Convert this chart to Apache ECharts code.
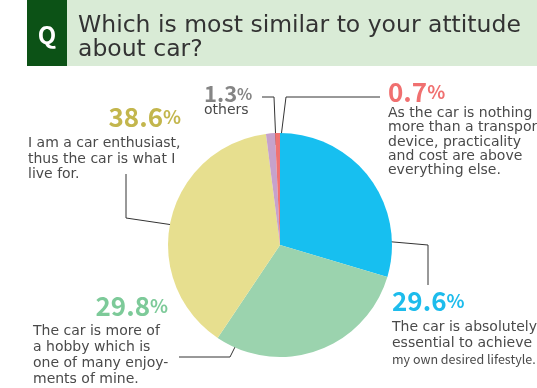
<!DOCTYPE html>
<html>
<head>
<meta charset="utf-8">
<script src="https://cdn.jsdelivr.net/npm/echarts@6/dist/echarts.min.js"></script>
<style>
  html, body { margin: 0; padding: 0; background: #fff; }
  #chart { width: 537px; height: 388px; }
</style>
</head>
<body>
<div id="chart"></div>
<script>
const categories = ['Essential', 'Hobby', 'Enthusiast', 'Others', 'Transport']
const values = [29.6, 29.8, 38.6, 1.3, 0.7]
const descriptions = [
  'The car is absolutely\nessential to achieve\nmy own desired lifestyle.',
  'The car is more of\na hobby which is\none of many enjoy-\nments of mine.',
  'I am a car enthusiast,\nthus the car is what I\nlive for.',
  'others',
  'As the car is nothing\nmore than a transport\ndevice, practicality\nand cost are above\neverything else.'
]
const sliceColors = ['#17bff0', '#9bd3ae', '#e7df8f', '#c6a2cc', '#f07272']
const pctColors = ['#1dbcec', '#7dca99', '#c3b64d', '#858585', '#f07070']

const font = '"Noto Sans CJK JP", "Noto Sans", sans-serif'
const textFont = '"DejaVu Sans", sans-serif'

// label blocks: left x, top y, width, percent line height, text line height, percent size
const labelBox = [
  { x: 392, y: 282, w: 150, pl: 38, tl: 15.5, ps: 26, align: 'left', narrow: 2 },
  { x: 33, y: 288, w: 135, pl: 36, tl: 15.7, ps: 26, align: 'right' },
  { x: 28, y: 98, w: 153, pl: 38, tl: 15.5, ps: 26, align: 'right' },
  { x: 204, y: 84, w: 60, pl: 19, tl: 15, ps: 22, align: 'left' },
  { x: 388, y: 78, w: 160, pl: 28, tl: 14.4, ps: 26, align: 'left' }
]
const leaderLines = [
  [[382, 241], [428, 245], [428, 285]],
  [[242, 333], [230, 357], [179, 357]],
  [[180, 226], [126, 218], [126, 174]],
  [[276, 145], [274, 97], [262, 97]],
  [[280, 145], [286, 97], [380, 97]]
]

const chart = echarts.init(document.getElementById('chart'))

const pieData = categories.map((name, i) => {
  const b = labelBox[i]
  const lines = descriptions[i].split('\n').map((t, k) => (k === b.narrow ? '{n|' : '{d|') + t + '}')
  return {
    name: name,
    value: values[i],
    itemStyle: { color: sliceColors[i] },
    label: {
      width: b.w,
      overflow: 'none',
      formatter: '{p|' + values[i].toFixed(1) + '}{u|%}\n' + lines.join('\n'),
      rich: {
        p: { fontSize: b.ps, fontWeight: 'bold', color: pctColors[i], lineHeight: b.pl, align: b.align, fontFamily: font },
        u: { fontSize: b.ps * 0.72, fontWeight: 'bold', color: pctColors[i], lineHeight: b.pl, align: b.align, fontFamily: font },
        d: { fontSize: 14, color: '#4a4a4a', lineHeight: b.tl, align: 'left', fontFamily: textFont },
        n: { fontSize: 12.5, color: '#4a4a4a', lineHeight: b.tl, align: 'left', fontFamily: font }
      }
    }
  }
})

chart.setOption({
  animation: false,
  title: {
    text: 'Which is most similar to your attitude\nabout car?',
    left: 73,
    top: 9,
    z: 10,
    textStyle: { fontSize: 23.5, lineHeight: 24, fontWeight: 'normal', color: '#333', fontFamily: textFont }
  },
  graphic: [
    { type: 'rect', shape: { x: 67, y: 0, width: 470, height: 66 }, style: { fill: '#d9ebd6' }, z: 0 },
    { type: 'rect', shape: { x: 27, y: 0, width: 40, height: 66 }, style: { fill: '#0c5216' }, z: 1 },
    {
      type: 'text', x: 47, y: 35, z: 2,
      style: { text: 'Q', fill: '#fff', font: 'bold 24px ' + font, align: 'center', verticalAlign: 'middle' }
    }
  ],
  series: [
    {
      type: 'pie',
      center: [280, 245],
      radius: 112,
      startAngle: 90,
      clockwise: true,
      avoidLabelOverlap: false,
      data: pieData,
      label: { show: true, position: 'outside' },
      labelLine: { show: true, lineStyle: { color: '#333', width: 1 } },
      labelLayout: function (params) {
        const b = labelBox[params.dataIndex]
        return {
          x: b.x,
          y: b.y,
          align: 'left',
          verticalAlign: 'top',
          hideOverlap: false,
          labelLinePoints: leaderLines[params.dataIndex]
        }
      },
      emphasis: { disabled: true }
    }
  ]
})
</script>
</body>
</html>
